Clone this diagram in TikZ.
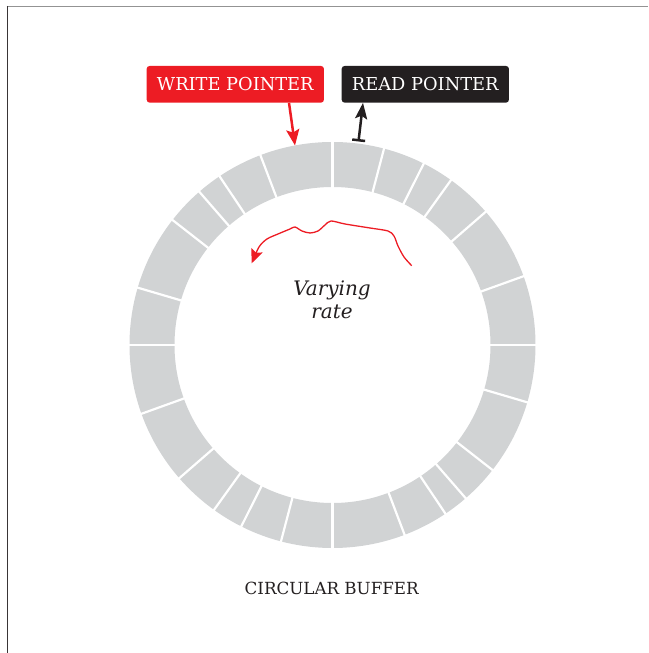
\documentclass[tikz,border=0pt]{standalone}
\usepackage{fontspec}
\setmainfont{DejaVu Serif}
\usetikzlibrary{arrows.meta,calc}
\definecolor{ringgray}{HTML}{D1D3D4}
\definecolor{ptred}{HTML}{ED1C24}
\definecolor{ink}{HTML}{231F20}
\begin{document}
\begin{tikzpicture}[x=1pt,y=1pt,
  divider/.style={white,line width=2.2pt},
  ptrbox/.style={rounded corners=3pt,minimum height=36.7pt,inner sep=0pt,
    text=white,font=\fontsize{17.8}{20}\selectfont,text height=12.6pt,text depth=0pt},
  warrow/.style={ptred,line width=2.5pt,-{Stealth[length=16pt,width=13pt,inset=3pt]}},
  rarrow/.style={ink,line width=2.5pt,{Bar[width=13pt]}-{Stealth[length=16pt,width=12pt,inset=3pt]}},
  wavy/.style={ptred,line width=1.3pt,-{Stealth[length=14pt,width=12pt,inset=2.5pt]}}]
\useasboundingbox (0,0) rectangle (648,653);
% frame
\draw[gray!85,line width=1.3pt] (6.5,646.5) -- (648,646.5);
\draw[ink!90,line width=1.3pt] (7.3,647) -- (7.3,0);
% ring
\coordinate (c) at (332.5,308);
\fill[ringgray,even odd rule] (c) circle[radius=203] (c) circle[radius=158];
\foreach \a in {90,75.3,63.3,54.3,41,19.8,0,-16.4,-38,-49,-56.2,-69.2}{
  \draw[divider] ([shift={(\a:150)}]c) -- ([shift={(\a:212)}]c);
  \draw[divider] ([shift={(\a+180:150)}]c) -- ([shift={(\a+180:212)}]c);
}
% pointer boxes
\node[ptrbox,fill=ptred,minimum width=177.3pt] (wp) at (235.3,568.7) {WRITE POINTER};
\node[ptrbox,fill=ink,minimum width=167.3pt] (rp) at (425.3,568.7) {READ POINTER};
\coordinate (wtip) at (295,507.5);
\coordinate (rbar) at (358.5,511.5);
\draw[warrow] ([xshift=53.7pt]wp.south) -- (wtip);
\draw[rarrow] (rbar) -- ([xshift=-62.3pt]rp.south);
% varying rate
\draw[wavy] plot[smooth,tension=0.5] coordinates {(411.7,387.3) (404,396) (398,407) (394,417) (388,422) (370,425) (345,429) (331,432) (325,428) (318,422) (310,420) (302,422) (295,426) (290,424) (278,419) (267,414) (259,406) (251.7,389.7)};
\node[font=\itshape\fontsize{20}{23}\selectfont,text=ink,align=center,anchor=base] (vr) at (332,334.7) {Varying\\rate};
% caption
\node[font=\fontsize{16.7}{20}\selectfont,text=ink,anchor=base] (cap) at (331.7,58.7) {CIRCULAR BUFFER};
\end{tikzpicture}
\end{document}
